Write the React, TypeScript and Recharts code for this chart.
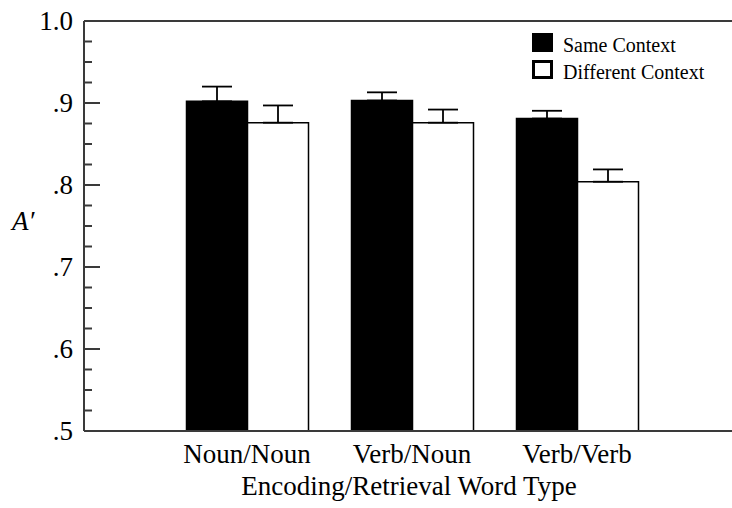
import React from 'react';
import { BarChart, Bar, XAxis, YAxis, ErrorBar, ReferenceLine } from 'recharts';

const categories = ['Noun/Noun', 'Verb/Noun', 'Verb/Verb'];
const sameContext = [0.902, 0.903, 0.881];
const sameContextErr = [0.018, 0.010, 0.0095];
const differentContext = [0.876, 0.876, 0.804];
const differentContextErr = [0.021, 0.016, 0.015];

const majorTicks = [0.5, 0.6, 0.7, 0.8, 0.9, 1.0];
const majorTickLabels = ['.5', '.6', '.7', '.8', '.9', '1.0'];
const minorTicks = [0.525, 0.55, 0.575, 0.625, 0.65, 0.675, 0.725, 0.75, 0.775, 0.825, 0.85, 0.875, 0.925, 0.95, 0.975];

const seriesNames = ['Same Context', 'Different Context'];

const FONT = '"Liberation Serif", "Times New Roman", serif';
const AXIS_COLOR = '#3a3a3a';

const data = categories.map((name, i) => ({
  name,
  same: sameContext[i],
  sameErr: [0, sameContextErr[i]],
  different: differentContext[i],
  differentErr: [0, differentContextErr[i]],
}));

const allTicks = [...majorTicks, ...minorTicks].sort((a, b) => a - b);

const YTick = (props: any) => {
  const { x, y, payload } = props;
  const idx = majorTicks.findIndex((t) => Math.abs(t - payload.value) < 1e-6);
  const isMajor = idx >= 0;
  return (
    <g>
      <line x1={x} x2={x + (isMajor ? 16 : 8)} y1={y} y2={y} stroke={AXIS_COLOR} strokeWidth={2} />
      {isMajor && (
        <text x={x - 11} y={y} dy="0.34em" textAnchor="end" fontFamily={FONT} fontSize={27} fill="#000">
          {majorTickLabels[idx]}
        </text>
      )}
    </g>
  );
};

const XTick = (props: any) => {
  const { x, y, payload } = props;
  return (
    <text x={x} y={y + 32} textAnchor="middle" fontFamily={FONT} fontSize={27} fill="#000">
      {payload.value}
    </text>
  );
};

const YLabel = (props: any) => {
  const vb = props.viewBox || { x: 0, y: 21, width: 84, height: 410 };
  return (
    <text x={vb.x + 12} y={vb.y + vb.height / 2 + 4} fontFamily={FONT} fontStyle="italic" fontSize={27} fill="#000">
      A′
    </text>
  );
};

const XLabel = (props: any) => {
  const vb = props.viewBox || { x: 84, y: 431, width: 648, height: 77 };
  return (
    <text x={vb.x + vb.width / 2 + 1} y={vb.y + 64} textAnchor="middle" fontFamily={FONT} fontSize={27} fill="#000">
      Encoding/Retrieval Word Type
    </text>
  );
};

const LegendBox = () => (
  <svg width={200} height={50} style={{ position: 'absolute', left: 532, top: 33, overflow: 'visible' }}>
    <rect x={0} y={0} width={21} height={19} fill="#000" />
    <text x={31} y={19} fontFamily={FONT} fontSize={20} fill="#000">{seriesNames[0]}</text>
    <rect x={1.5} y={28.5} width={18} height={16} fill="#fff" stroke="#000" strokeWidth={3} />
    <text x={31} y={46} fontFamily={FONT} fontSize={20} fill="#000">{seriesNames[1]}</text>
  </svg>
);

export default function App() {
  return (
    <div style={{ position: 'absolute', left: 0, top: 0, width: 732, height: 508, background: '#fff' }}>
      <BarChart
        width={732}
        height={508}
        data={data}
        margin={{ top: 21, right: 0, bottom: 0, left: 0 }}
        barGap={0}
        barSize={61}
      >
        <XAxis
          dataKey="name"
          height={77}
          padding={{ left: 80.5, right: 72.5 }}
          axisLine={{ stroke: AXIS_COLOR, strokeWidth: 2 }}
          tickLine={false}
          tickSize={0}
          tickMargin={0}
          tick={<XTick />}
          interval={0}
          label={<XLabel />}
        />
        <YAxis
          type="number"
          domain={[0.5, 1.0]}
          ticks={allTicks}
          interval={0}
          width={84}
          axisLine={{ stroke: AXIS_COLOR, strokeWidth: 2 }}
          tickLine={false}
          tickSize={0}
          tickMargin={0}
          tick={<YTick />}
          label={<YLabel />}
        />
        <ReferenceLine y={1.0} stroke={AXIS_COLOR} strokeWidth={2} />
        <Bar dataKey="same" name={seriesNames[0]} fill="#000" stroke="#000" strokeWidth={1.5} isAnimationActive={false}>
          <ErrorBar dataKey="sameErr" width={15} stroke="#000" strokeWidth={1.8} />
        </Bar>
        <Bar dataKey="different" name={seriesNames[1]} fill="#fff" stroke="#000" strokeWidth={1.5} isAnimationActive={false}>
          <ErrorBar dataKey="differentErr" width={15} stroke="#000" strokeWidth={1.8} />
        </Bar>
      </BarChart>
      <LegendBox />
    </div>
  );
}
